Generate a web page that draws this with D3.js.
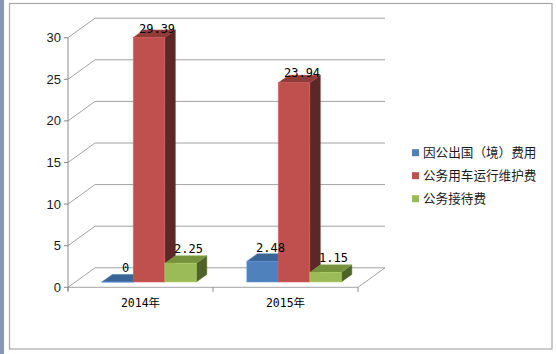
<!DOCTYPE html>
<html><head><meta charset="utf-8">
<script src="https://cdn.jsdelivr.net/npm/d3@7"></script>
<style>html,body{margin:0;padding:0;background:#fff;}svg{display:block;}</style>
</head><body>
<script>
const categories = ["2014年", "2015年"];
const seriesNames = ["因公出国（境）费用", "公务用车运行维护费", "公务接待费"];
const values2014 = [0, 29.39, 2.25];
const values2015 = [2.48, 23.94, 1.15];
const valueLabels2014 = ["0", "29.39", "2.25"];
const valueLabels2015 = ["2.48", "23.94", "1.15"];
const yTicks = [0, 5, 10, 15, 20, 25, 30];
const frontColors = ["#4F81BD", "#C0504D", "#9BBB59"];
const topColors = ["#3A6596", "#8F3B38", "#76923C"];
const sideColors = ["#2B4B73", "#5C2826", "#4F6228"];

const W = 556, H = 354;
const svg = d3.select("body").append("svg").attr("width", W).attr("height", H);

// frame
svg.append("rect").attr("x", 0).attr("y", 0).attr("width", 4).attr("height", H).attr("fill", "#8797b4");
svg.append("rect").attr("x", 9.5).attr("y", 3.5).attr("width", 542.5).attr("height", 345.5)
  .attr("fill", "none").attr("stroke", "#a8a8a8").attr("stroke-width", 1.2);

// scales
const x = d3.scaleBand().domain(categories).range([68, 358]);
const xSub = d3.scaleBand().domain(seriesNames).range([26.5, 121]);
const y = d3.scaleLinear().domain([0, 30]).range([287.3, 37.7]);
const yLabel = d3.scaleLinear().domain([0, 29.39]).range([271.7, 32.7]);
const DX = 27, DY = 19.5;
const P = (px, v, z) => [px + z * DX, y(v) - z * DY];
const zF = 0.27, zB = 0.66;

const grid = svg.append("g").attr("stroke", "#a3a3a3").attr("stroke-width", 1).attr("fill", "none");
yTicks.forEach(t => {
  const a = P(68, t, 0), b = P(68, t, 1), c = P(358, t, 1);
  grid.append("polyline").attr("points", [a, b, c].map(p => p.join(",")).join(" "));
});
// floor edges
const floor = [P(68, 0, 0), P(358, 0, 0), P(358, 0, 1)];
grid.append("polyline").attr("points", floor.map(p => p.join(",")).join(" "));

// bars
const data = [values2014, values2015];
const labels = [valueLabels2014, valueLabels2015];
const bars = svg.append("g");
categories.forEach((cat, ci) => {
  seriesNames.forEach((s, si) => {
    const v = data[ci][si];
    const x0 = x(cat) + xSub(s), x1 = x0 + xSub.bandwidth();
    const g = bars.append("g");
    const poly = (pts, fill) => g.append("polygon").attr("points", pts.map(p => p.join(",")).join(" "))
      .attr("fill", fill).attr("stroke", d3.color(fill).brighter(0.4)).attr("stroke-width", 0.5);
    poly([P(x1, 0, zF), P(x1, v, zF), P(x1, v, zB), P(x1, 0, zB)], sideColors[si]);
    poly([P(x0, v, zF), P(x1, v, zF), P(x1, v, zB), P(x0, v, zB)], topColors[si]);
    poly([P(x0, 0, zF), P(x1, 0, zF), P(x1, v, zF), P(x0, v, zF)], frontColors[si]);
  });
});
// value labels
categories.forEach((cat, ci) => {
  seriesNames.forEach((s, si) => {
    const v = data[ci][si];
    const xc = x(cat) + xSub(s) + xSub.bandwidth() / 2;
    svg.append("text").attr("x", P(xc, v, zF)[0] + 8).attr("y", yLabel(v))
      .attr("text-anchor", "middle").attr("font-family", "'DejaVu Sans Mono', monospace")
      .attr("font-size", 12).attr("fill", "#000").text(labels[ci][si]);
  });
});

// y axis
const ax = svg.append("g");
ax.append("line").attr("x1", 68).attr("x2", 68).attr("y1", y(30)).attr("y2", 291).attr("stroke", "#8a8a8a");
yTicks.forEach(t => {
  ax.append("line").attr("x1", 64).attr("x2", 68).attr("y1", y(t)).attr("y2", y(t)).attr("stroke", "#8a8a8a");
  ax.append("text").attr("x", 61).attr("y", y(t)).attr("dy", "0.35em").attr("text-anchor", "end")
    .attr("font-family", "Liberation Sans, Arial, sans-serif").attr("font-size", 13).attr("fill", "#1a1a1a").text(t);
});
// x axis ticks and labels
[68, x(categories[1]), 358].forEach(px => {
  ax.append("line").attr("x1", px).attr("x2", px).attr("y1", y(0)).attr("y2", y(0) + 4.5).attr("stroke", "#8a8a8a");
});
categories.forEach(cat => {
  ax.append("text").attr("x", x(cat) + x.bandwidth() / 2).attr("y", 306.5).attr("text-anchor", "middle")
    .attr("font-family", "'DejaVu Sans Mono', 'Noto Sans CJK SC', monospace").attr("font-size", 11.5).attr("fill", "#000").text(cat);
});

// legend
const lg = svg.append("g");
seriesNames.forEach((s, i) => {
  const cy = 152.7 + i * 23;
  lg.append("rect").attr("x", 412).attr("y", cy - 3.5).attr("width", 7).attr("height", 7).attr("fill", frontColors[i]);
  lg.append("text").attr("x", 423).attr("y", cy).attr("dy", "0.36em")
    .attr("font-family", "'Noto Sans CJK SC', sans-serif").attr("font-size", 12.6).attr("fill", "#1a1a1a").text(s);
});
</script>
</body></html>
